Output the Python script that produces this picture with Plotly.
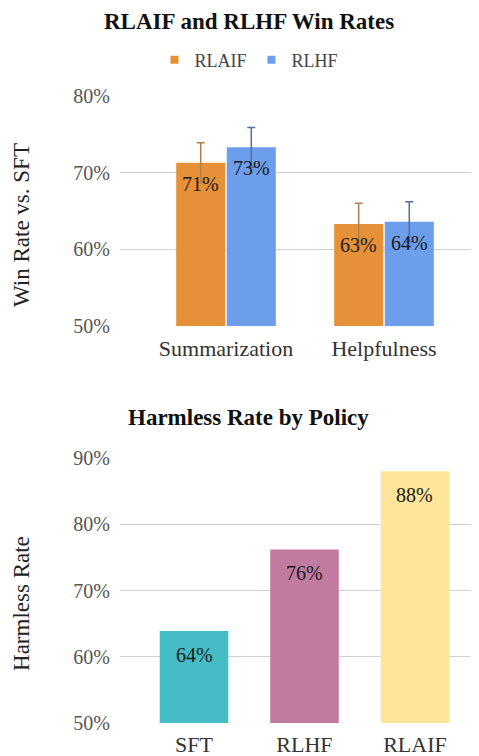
import plotly.graph_objects as go

# ---- data ----
win_categories = ["Summarization", "Helpfulness"]
rlaif_win = [71.3, 63.3]
rlhf_win = [73.3, 63.6]
rlaif_err = [2.6, 2.7]
rlhf_err = [2.6, 2.6]
series_names = ["RLAIF", "RLHF"]

harm_policies = ["SFT", "RLHF", "RLAIF"]
harm_rates = [63.9, 76.2, 88.0]

win_ticks = [50, 60, 70, 80]
harm_ticks = [50, 60, 70, 80, 90]

FONT = "Liberation Serif, Times New Roman, serif"
colors_win = ["#E69138", "#6D9EEB"]
err_colors = ["#B0814F", "#4F6F9F"]
colors_harm = ["#46BDC6", "#C27BA0", "#FFE599"]

W, H = 479, 756
BARGAP = 0.36
x_dom = [0.2338, 1.0]
x1_range = [-0.671, 1.652]
x2_range = [-0.670, 2.652]
label_font = dict(family=FONT, size=20, color="#1A1A1A")

fig = go.Figure()

for name, vals, errs, c, ec in zip(series_names, [rlaif_win, rlhf_win], [rlaif_err, rlhf_err], colors_win, err_colors):
    fig.add_trace(go.Bar(
        x=win_categories, y=vals, name=name, showlegend=False,
        marker=dict(color=c, line=dict(width=0)),
        error_y=dict(type="data", array=errs, visible=True, color=ec, thickness=1.5, width=4),
        xaxis="x", yaxis="y",
    ))
    # legend proxy (small square swatch like the original)
    fig.add_trace(go.Scatter(
        x=[None], y=[None], mode="markers", name=name,
        marker=dict(symbol="square", size=8, color=c),
        xaxis="x", yaxis="y",
    ))

fig.add_trace(go.Bar(
    x=harm_policies, y=harm_rates, showlegend=False,
    marker=dict(color=colors_harm, line=dict(width=0)),
    xaxis="x2", yaxis="y2",
))

# value labels, placed a little inside the top of each bar
px_per_unit1 = (x_dom[1] - x_dom[0]) * W / (x1_range[1] - x1_range[0])
half_slot = (1 - BARGAP) / 4 * px_per_unit1
annotations = []
for k, vals in enumerate([rlaif_win, rlhf_win]):
    for cat, v in zip(win_categories, vals):
        annotations.append(dict(x=cat, y=v, xref="x", yref="y", text=f"{v:.0f}%",
                                showarrow=False, yanchor="top", yshift=-8,
                                xshift=(-1 if k == 0 else 1) * half_slot,
                                font=label_font))
for cat, v in zip(harm_policies, harm_rates):
    annotations.append(dict(x=cat, y=v, xref="x2", yref="y2", text=f"{v:.0f}%",
                            showarrow=False, yanchor="top", yshift=-11, font=label_font))

annotations += [
    dict(text="<b>RLAIF and RLHF Win Rates</b>", x=0.503, y=0.9815, xref="paper", yref="paper",
         xanchor="center", yanchor="middle", showarrow=False,
         font=dict(family=FONT, size=23, color="#111111")),
    dict(text="<b>Harmless Rate by Policy</b>", x=0.503, y=0.4577, xref="paper", yref="paper",
         xanchor="center", yanchor="middle", showarrow=False,
         font=dict(family=FONT, size=23, color="#111111")),
    dict(text="Win Rate vs. SFT", x=0.0292, y=0.713, xref="paper", yref="paper", textangle=-90,
         xanchor="center", yanchor="middle", showarrow=False,
         font=dict(family=FONT, size=23, color="#222222")),
    dict(text="Harmless Rate", x=0.0292, y=0.213, xref="paper", yref="paper", textangle=-90,
         xanchor="center", yanchor="middle", showarrow=False,
         font=dict(family=FONT, size=23, color="#222222")),
]

axis_common = dict(showline=False, zeroline=False, ticks="", automargin=False)
ytick_font = dict(family=FONT, size=20, color="#555555")
xtick_font = dict(family=FONT, size=22, color="#333333")
fig.update_layout(
    width=W, height=H, autosize=False,
    margin=dict(l=0, r=0, t=0, b=0, pad=0, autoexpand=False),
    paper_bgcolor="white", plot_bgcolor="white",
    font=dict(family=FONT, color="#333333"),
    barmode="group", bargap=BARGAP, bargroupgap=0.03,
    showlegend=True,
    legend=dict(orientation="h", x=0.503, xanchor="center", y=0.931, yanchor="middle",
                font=dict(family=FONT, size=18, color="#444444"), itemwidth=30,
                traceorder="normal", bgcolor="rgba(0,0,0,0)"),
    xaxis=dict(domain=x_dom, range=x1_range, anchor="y", tickfont=xtick_font,
               ticklabelstandoff=7, showgrid=False, **axis_common),
    yaxis=dict(domain=[0.5794, 0.8836], range=[50, 80], anchor="x",
               tickvals=win_ticks, ticktext=[f"{t}%" for t in win_ticks], ticklabelstandoff=9,
               tickfont=ytick_font, showgrid=True, gridcolor="#D0D0D0", gridwidth=1,
               **axis_common),
    xaxis2=dict(domain=x_dom, range=x2_range, anchor="y2", tickfont=xtick_font,
                ticklabelstandoff=6, showgrid=False, **axis_common),
    yaxis2=dict(domain=[0.0542, 0.4048], range=[50, 90], anchor="x2",
                tickvals=harm_ticks, ticktext=[f"{t}%" for t in harm_ticks], ticklabelstandoff=9,
                tickfont=ytick_font, showgrid=True, gridcolor="#D0D0D0", gridwidth=1,
                **axis_common),
    annotations=annotations,
)

fig.write_html("out.html")
